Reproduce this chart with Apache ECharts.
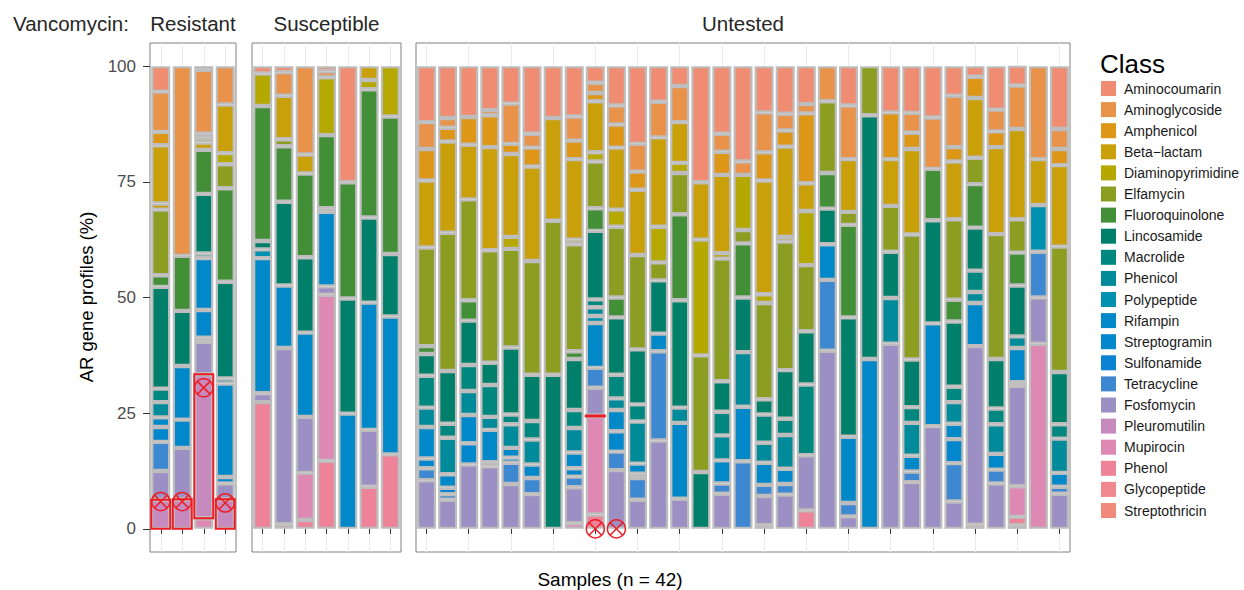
<!DOCTYPE html>
<html>
<head>
<meta charset="utf-8">
<script src="https://cdn.jsdelivr.net/npm/echarts@6/dist/echarts.min.js"></script>
<style>
  html, body { margin: 0; padding: 0; background: #fff; }
  #chart { width: 1244px; height: 590px; }
</style>
</head>
<body>
<div id="chart"></div>
<script>
// antibiotic classes (legend order) and the short codes used in the bar data
const classes = ["Aminocoumarin", "Aminoglycoside", "Amphenicol", "Beta\u2212lactam", "Diaminopyrimidine",
  "Elfamycin", "Fluoroquinolone", "Lincosamide", "Macrolide", "Phenicol", "Polypeptide", "Rifampin",
  "Streptogramin", "Sulfonamide", "Tetracycline", "Fosfomycin", "Pleuromutilin", "Mupirocin", "Phenol",
  "Glycopeptide", "Streptothricin"];
const classCodes = ["AC", "AG", "AM", "BL", "DP", "EL", "FQ", "LI", "MA", "PH", "PP", "RI",
  "SG", "SU", "TE", "FO", "PL", "MU", "PN", "GP", "ST"];
const palette = ["#F08C72", "#E8924A", "#DD9616", "#C9A00A", "#B5A800", "#8C9E22", "#428F38", "#00806A",
  "#008880", "#008A9A", "#0090B0", "#0088C8", "#0286CC", "#0A82D4", "#3D88D0", "#9B8FC4", "#C68ABE",
  "#DE88B4", "#EE8299", "#F08890", "#F08A7A"];

// each bar: gene segments bottom -> top, [class code, % of profile]
const resistantSamples = ["R1", "R2", "R3", "R4"];
const resistantBars = [
  [["PL",6.3],["FO",6.2],["TE",6.3],["SG",3.2],["RI",2.1],["PH",3.3],["MA",2.9],["LI",22.0],["FQ",2.5],["EL",14.2],["BL",1.3],["BL",12.6],["AM",2.9],["AG",8.7],["AC",5.5]],
  [["PL",6.4],["FO",11.1],["SG",6.1],["RI",11.6],["LI",11.9],["FQ",11.9],["AG",41.0]],
  [["MU",2.3],["PL",31.1],["FO",7.0],["SG",0.9],["SG",6.0],["RI",11.2],["PP",1.0],["LI",12.9],["FQ",9.5],["BL",1.6],["BL",1.0],["AM",0.9],["AG",13.8],["AC",0.8]],
  [["PL",6.4],["FO",3.4],["SG",1.4],["RI",20.2],["PH",1.1],["LI",20.9],["FQ",20.2],["EL",5.2],["DP",2.4],["BL",10.5],["AG",8.3]]
];

const susceptibleSamples = ["S1", "S2", "S3", "S4", "S5", "S6", "S7"];
const susceptibleBars = [
  [["PN",27.4],["FO",1.9],["RI",29.2],["PP",1.9],["LI",1.8],["FQ",29.2],["DP",7.0],["AC",1.6]],
  [["PN",1.0],["FO",38.1],["RI",13.5],["LI",18.1],["FQ",12.0],["EL",1.5],["BL",9.4],["AG",5.1],["AC",1.3]],
  [["PN",1.9],["MU",10.2],["FO",12.1],["RI",18.2],["LI",16.3],["FQ",18.1],["BL",4.1],["AG",19.1]],
  [["PN",14.7],["MU",35.9],["FO",1.8],["RI",16.1],["LI",0.8],["FQ",15.8],["DP",12.5],["AG",1.3],["AC",1.1]],
  [["RI",24.9],["LI",24.9],["FQ",25.1],["AC",25.1]],
  [["PN",9.1],["FO",12.3],["RI",27.5],["LI",18.4],["FQ",27.7],["DP",2.0],["BL",3.0]],
  [["PN",16.1],["RI",29.8],["LI",13.5],["FQ",29.7],["DP",10.9]]
];

const untestedSamples = ["U1", "U2", "U3", "U4", "U5", "U6", "U7", "U8", "U9", "U10", "U11", "U12", "U13",
  "U14", "U15", "U16", "U17", "U18", "U19", "U20", "U21", "U22", "U23", "U24", "U25", "U26", "U27", "U28",
  "U29", "U30", "U31"];
const untestedBars = [
  [["FO",10.5],["TE",2.6],["SG",2.1],["RI",6.8],["PH",4.2],["MA",6.9],["LI",4.7],["FQ",1.7],["EL",21.3],["BL",14.5],["AM",6.8],["AG",5.8],["AC",12.1]],
  [["FO",6.3],["TE",1.2],["SU",1.4],["RI",2.9],["PH",7.9],["MA",3.0],["LI",11.4],["EL",29.9],["BL",19.7],["AM",3.0],["AG",2.1],["AC",11.2]],
  [["FO",13.9],["SG",4.6],["RI",6.1],["PH",5.2],["MA",5.6],["LI",9.6],["FQ",4.4],["EL",21.8],["BL",11.8],["AM",6.0],["AC",11.0]],
  [["FO",13.5],["SG",0.9],["RI",7.0],["PH",2.8],["MA",6.9],["LI",4.8],["EL",24.3],["BL",22.3],["AM",6.9],["AG",1.1],["AC",9.5]],
  [["FO",9.7],["TE",4.6],["SG",1.1],["RI",2.1],["PH",5.1],["MA",2.1],["LI",14.5],["EL",21.3],["DP",2.6],["BL",17.9],["AM",2.2],["AG",8.7],["AC",8.1]],
  [["FO",7.5],["TE",3.5],["RI",2.9],["PH",5.4],["MA",4.0],["LI",10.0],["EL",24.6],["BL",20.4],["AM",4.1],["AG",3.0],["AC",14.6]],
  [["LI",33.3],["EL",33.3],["BL",22.2],["AC",11.2]],
  [["MU",1.2],["FO",7.8],["TE",2.3],["SG",1.8],["RI",3.4],["PH",5.3],["MA",3.9],["LI",11.0],["FQ",1.7],["EL",23.1],["DP",1.0],["BL",17.4],["AM",4.0],["AG",5.2],["AC",10.9]],
  [["PN",3.1],["MU",21.2],["PL",0.2],["FO",6.0],["TE",4.3],["RI",9.7],["PP",1.5],["PH",1.9],["MA",1.7],["LI",14.8],["FQ",4.9],["EL",10.1],["DP",2.0],["BL",11.0],["AM",1.8],["AG",2.2],["AC",3.6]],
  [["FO",12.7],["TE",4.0],["SG",4.4],["RI",4.6],["PH",2.5],["MA",5.1],["LI",12.4],["FQ",4.3],["EL",15.3],["DP",3.7],["BL",13.4],["AM",5.0],["AG",4.1],["AC",8.5]],
  [["FO",6.3],["TE",4.7],["SG",0.9],["RI",2.2],["PH",9.1],["MA",3.7],["LI",11.9],["EL",20.4],["BL",14.1],["AM",3.9],["AG",6.0],["AC",16.8]],
  [["FO",19.1],["TE",19.3],["RI",3.8],["LI",11.5],["EL",3.9],["DP",7.7],["BL",19.3],["AG",7.7],["AC",7.7]],
  [["FO",6.5],["RI",16.4],["PH",3.3],["LI",23.2],["FQ",18.6],["EL",8.9],["DP",2.2],["BL",8.8],["AG",7.8],["AC",4.3]],
  [["LI",12.3],["EL",25.2],["DP",25.0],["BL",12.4],["AC",25.1]],
  [["FO",7.6],["TE",2.2],["RI",5.0],["PH",5.4],["MA",5.1],["LI",6.6],["EL",26.5],["DP",1.2],["BL",16.9],["AM",5.0],["AG",3.9],["AC",14.6]],
  [["TE",14.6],["RI",11.8],["PH",11.8],["LI",11.8],["FQ",11.7],["EL",2.9],["DP",11.9],["AG",2.9],["AC",20.6]],
  [["PN",0.8],["FO",6.3],["TE",2.4],["RI",4.8],["PH",4.3],["MA",6.1],["LI",3.3],["EL",20.8],["DP",1.9],["BL",24.6],["AM",6.1],["AG",8.6],["AC",10.0]],
  [["FO",7.4],["TE",2.3],["RI",3.3],["PH",7.3],["MA",3.5],["LI",10.5],["EL",27.8],["DP",1.0],["BL",19.5],["AM",3.5],["AG",3.6],["AC",10.3]],
  [["PN",4.0],["FO",11.9],["MA",15.3],["LI",11.5],["EL",14.3],["DP",11.7],["BL",6.0],["AM",15.1],["AG",2.0],["AC",8.2]],
  [["FO",38.5],["TE",15.3],["RI",7.7],["LI",7.7],["FQ",7.7],["EL",15.5],["AG",7.6]],
  [["FO",2.7],["TE",2.9],["RI",14.3],["LI",25.8],["FQ",20.0],["EL",2.8],["BL",11.4],["AG",11.6],["AC",8.5]],
  [["RI",36.7],["LI",52.7],["EL",10.6]],
  [["FO",40.0],["PH",9.9],["LI",10.0],["EL",9.9],["BL",10.1],["AM",10.1],["AC",10.0]],
  [["FO",10.1],["TE",2.3],["RI",3.4],["PH",7.1],["MA",3.4],["LI",10.3],["EL",27.0],["BL",18.5],["AM",3.5],["AG",4.3],["AC",10.1]],
  [["FO",22.2],["RI",22.2],["LI",22.3],["FQ",11.1],["AG",11.1],["AC",11.1]],
  [["FO",5.9],["TE",8.3],["SG",5.2],["RI",3.3],["PH",4.7],["MA",3.3],["LI",14.1],["FQ",4.7],["EL",17.4],["BL",12.5],["AM",3.1],["AG",11.1],["AC",6.4]],
  [["PN",0.9],["FO",38.6],["RI",9.3],["PH",2.4],["MA",4.6],["LI",9.3],["FQ",9.4],["EL",5.7],["BL",12.9],["AM",4.6],["AC",2.3]],
  [["FO",9.8],["TE",3.0],["RI",3.4],["PH",6.4],["MA",3.4],["LI",10.7],["EL",27.0],["BL",18.8],["AM",3.4],["AG",4.7],["AC",9.4]],
  [["GP",0.8],["PN",1.8],["MU",6.6],["FO",21.7],["SG",0.8],["RI",7.4],["PH",2.5],["LI",11.0],["FQ",7.1],["EL",7.2],["BL",19.5],["AG",9.4],["AC",4.3]],
  [["MU",40.0],["FO",10.0],["TE",9.9],["PP",10.1],["BL",9.9],["AG",20.1]],
  [["FO",7.6],["TE",1.5],["RI",3.0],["PH",7.4],["MA",3.1],["LI",11.3],["EL",27.1],["BL",17.6],["AM",3.5],["AG",4.3],["AC",13.6]]
];

// crossed-circle marks (sample, % position)
const markerSamples = ["R1", "R2", "R3", "R4", "U9", "U10"];
const markerValues = [5.9, 5.9, 30.5, 5.6, 0, 0];

const yTicks = [0, 25, 50, 75, 100];
const flaggedClass = "PL";

const FONT = "'Liberation Sans', Arial, sans-serif";
const RED = "#EE1C25";
const colorOf = (code) => palette[classCodes.indexOf(code)];

const facets = [
  { label: "Resistant", samples: resistantSamples, bars: resistantBars, left: 150, width: 86 },
  { label: "Susceptible", samples: susceptibleSamples, bars: susceptibleBars, left: 252, width: 149 },
  { label: "Untested", samples: untestedSamples, bars: untestedBars, left: 416, width: 654 }
];

const chart = echarts.init(document.getElementById("chart"), null, { renderer: "svg" });

const grid = facets.map(f => ({
  left: f.left, width: f.width, top: 43, bottom: 38,
  show: true, borderColor: "#808080", borderWidth: 1, backgroundColor: "#fff"
}));

const xAxis = facets.map((f, i) => ({
  type: "category", gridIndex: i, data: f.samples,
  axisLine: { show: false },
  axisLabel: { show: false },
  axisTick: { show: true, alignWithLabel: true, length: 5, lineStyle: { color: "#333" } },
  splitLine: { show: true, alignWithLabel: true, lineStyle: { color: "#EBEBEB", width: 1 } }
}));

const yAxis = facets.map((f, i) => ({
  type: "value", gridIndex: i, min: -5, max: 105,
  axisLine: { show: false },
  splitLine: { show: false },
  axisTick: { show: i === 0, length: 7, customValues: yTicks, lineStyle: { color: "#333" } },
  axisLabel: { show: i === 0, customValues: yTicks, fontSize: 17, color: "#4D4D4D", margin: 14, fontFamily: FONT }
}));

const series = [];
facets.forEach((f, fi) => {
  const layers = Math.max(...f.bars.map(b => b.length));
  for (let k = 0; k < layers; k++) {
    series.push({
      type: "bar", xAxisIndex: fi, yAxisIndex: fi, stack: "s" + fi,
      barWidth: 19, silent: true,
      itemStyle: { borderColor: "#BDBDBD", borderWidth: 2.2 },
      data: f.bars.map(b => b[k] ? { value: b[k][1], itemStyle: { color: colorOf(b[k][0]) } } : "-")
    });
  }

  // red outline around flagged segments, bounds taken from the stacked data
  const boxes = [];
  f.bars.forEach((b, bi) => {
    let acc = 0;
    b.forEach(([c, v]) => {
      if (c === flaggedClass) boxes.push([bi, acc, acc + v]);
      acc += v;
    });
  });
  series.push({
    type: "custom", xAxisIndex: fi, yAxisIndex: fi, silent: true, z: 10,
    encode: { x: 0, y: [1, 2] }, data: boxes,
    renderItem: (params, api) => {
      const p0 = api.coord([api.value(0), api.value(1)]);
      const p1 = api.coord([api.value(0), api.value(2)]);
      return {
        type: "rect",
        shape: { x: p0[0] - 9.5, y: p1[1], width: 19, height: Math.max(p0[1] - p1[1], 0.5) },
        style: { fill: "none", stroke: RED, lineWidth: 2 }
      };
    }
  });

  const marks = [];
  markerSamples.forEach((s, mi) => {
    const idx = f.samples.indexOf(s);
    if (idx >= 0) marks.push([idx, markerValues[mi]]);
  });
  series.push({
    type: "custom", xAxisIndex: fi, yAxisIndex: fi, silent: true, z: 11,
    encode: { x: 0, y: 1 }, data: marks,
    renderItem: (params, api) => {
      const p = api.coord([api.value(0), api.value(1)]);
      const r = 9, d = r * 0.707;
      const st = { stroke: RED, lineWidth: 1.5, fill: "none" };
      return {
        type: "group",
        children: [
          { type: "circle", shape: { cx: p[0], cy: p[1], r: r }, style: st },
          { type: "line", shape: { x1: p[0] - d, y1: p[1] - d, x2: p[0] + d, y2: p[1] + d }, style: st },
          { type: "line", shape: { x1: p[0] - d, y1: p[1] + d, x2: p[0] + d, y2: p[1] - d }, style: st }
        ]
      };
    }
  });
});

// empty series, only to feed the legend
classes.forEach((c, i) => {
  series.push({ type: "scatter", name: c, xAxisIndex: 0, yAxisIndex: 0, data: [],
    itemStyle: { color: palette[i], opacity: 1 } });
});

const graphic = [
  { type: "text", x: 13, y: 23,
    style: { text: "Vancomycin:", font: "20.5px " + FONT, fill: "#262626", textVerticalAlign: "middle" } },
  ...facets.map(f => ({
    type: "text", x: f.left + f.width / 2, y: 23,
    style: { text: f.label, font: "20.5px " + FONT, fill: "#262626", textAlign: "center", textVerticalAlign: "middle" }
  })),
  { type: "text", x: 86, y: 297, rotation: Math.PI / 2,
    style: { text: "AR gene profiles (%)", font: "18.5px " + FONT, fill: "#000", textAlign: "center", textVerticalAlign: "middle" } },
  { type: "text", x: 610, y: 579,
    style: { text: "Samples (n = 42)", font: "19px " + FONT, fill: "#000", textAlign: "center", textVerticalAlign: "middle" } },
  { type: "text", x: 1100, y: 64,
    style: { text: "Class", font: "26px " + FONT, fill: "#000", textVerticalAlign: "middle" } }
];

const option = {
  animation: false,
  backgroundColor: "#fff",
  textStyle: { fontFamily: FONT },
  grid, xAxis, yAxis, series, graphic,
  legend: {
    data: classes, orient: "vertical", left: 1101, top: 81, padding: 0,
    icon: "rect", itemWidth: 15, itemHeight: 15, itemGap: 6.1, selectedMode: false,
    textStyle: { fontSize: 14, color: "#1A1A1A", fontFamily: FONT, padding: [0, 0, 0, 3] }
  }
};

option && chart.setOption(option);
</script>
</body>
</html>
